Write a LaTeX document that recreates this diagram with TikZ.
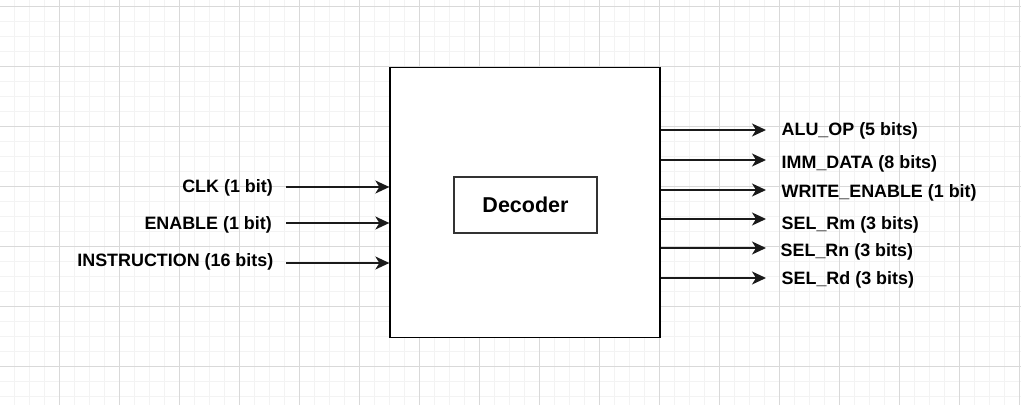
\documentclass[tikz,border=0pt]{standalone}
\usepackage{fontspec}
\setmainfont{Liberation Sans}
\usetikzlibrary{arrows.meta}
\definecolor{minorgrid}{HTML}{F3F3F3}
\definecolor{majorgrid}{HTML}{D9D9D9}
\definecolor{linecol}{HTML}{1A1A1A}
\tikzset{
  minorline/.style={draw=minorgrid, line width=1pt},
  majorline/.style={draw=majorgrid, line width=1pt},
  mainbox/.style={draw=black, line width=1.3pt, fill=white, minimum width=270pt, minimum height=270pt, inner sep=0pt},
  decbox/.style={draw=black!80, line width=1.6pt, fill=white, minimum width=143pt, minimum height=56pt, inner sep=0pt, font=\fontsize{21.5}{24}\selectfont\bfseries},
  sig/.style={draw=linecol, line width=1.5pt, -{Stealth[length=14pt,width=13pt,inset=4pt]}},
  lbl/.style={inner sep=0pt, font=\fontsize{17.9}{20}\selectfont\bfseries}
}
\begin{document}
\begin{tikzpicture}[x=1pt,y=-1pt]
\useasboundingbox (0,0) rectangle (1021,405);
\fill[white] (0,0) rectangle (1021,405);
% grid
\foreach \x in {14,29,...,1020} \draw[minorline] (\x,0) -- (\x,405);
\foreach \y in {6,21,...,405} \draw[minorline] (0,\y) -- (1021,\y);
\foreach \x in {59,119,...,1020} \draw[majorline] (\x,0) -- (\x,405);
\foreach \y in {6,66,...,405} \draw[majorline] (0,\y) -- (1021,\y);
% main block
\node[mainbox] (main) at (525,202.5) {};
\node[decbox] (dec) at (525.5,205) {Decoder};
% inputs
\coordinate (i1) at (286,187);
\coordinate (i2) at (286,223);
\coordinate (i3) at (286,263);
\draw[sig] (i1) -- (i1 -| main.west);
\draw[sig] (i2) -- (i2 -| main.west);
\draw[sig] (i3) -- (i3 -| main.west);
\node[lbl, anchor=base east] (l1) at (273,192.7) {CLK (1 bit)};
\node[lbl, anchor=base east] (l2) at (272,229) {ENABLE (1 bit)};
\node[lbl, anchor=base east] (l3) at (273.5,266.7) {INSTRUCTION (16 bits)};
% outputs
\coordinate (o1) at (766,130);
\coordinate (o2) at (766,160);
\coordinate (o3) at (766,190);
\coordinate (o4) at (766,219);
\coordinate (o5) at (766,248);
\coordinate (o6) at (766,278);
\foreach \o in {o1,o2,o3,o4,o5,o6} \draw[sig] (main.east |- \o) -- (\o);
\node[lbl, anchor=base west] (r1) at (781.5,135) {ALU\_OP (5 bits)};
\node[lbl, anchor=base west] (r2) at (781.5,168.3) {IMM\_DATA (8 bits)};
\node[lbl, anchor=base west] (r3) at (781.5,197.3) {WRITE\_ENABLE (1 bit)};
\node[lbl, anchor=base west] (r4) at (781.5,229.3) {SEL\_Rm (3 bits)};
\node[lbl, anchor=base west] (r5) at (780.5,256) {SEL\_Rn (3 bits)};
\node[lbl, anchor=base west] (r6) at (781.5,284.3) {SEL\_Rd (3 bits)};
\end{tikzpicture}
\end{document}
